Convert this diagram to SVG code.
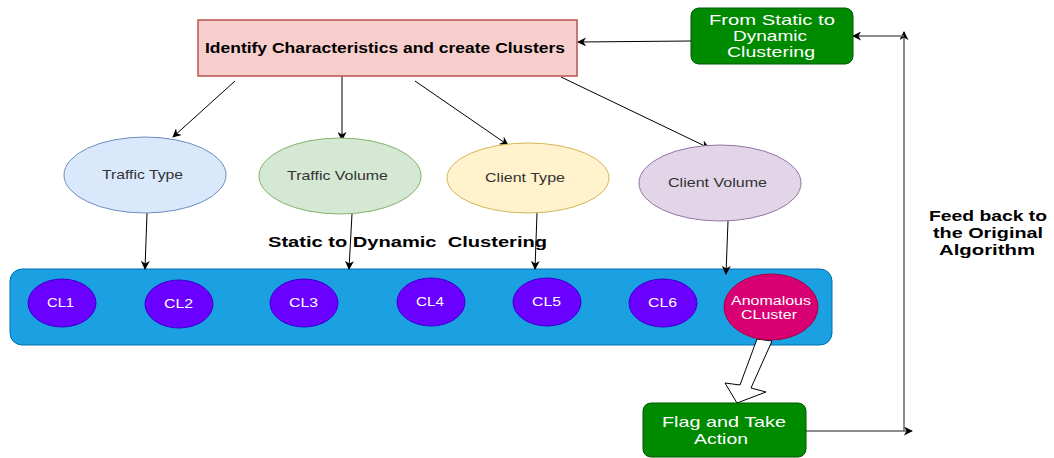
<svg xmlns="http://www.w3.org/2000/svg" width="1054" height="458" viewBox="0 0 1054 458">
<defs>
<marker id="ah" viewBox="0 0 10 10" refX="9" refY="5" markerWidth="9" markerHeight="9" markerUnits="userSpaceOnUse" orient="auto">
<path d="M0,0 L10,5 L0,10 L3,5 z" fill="#000"/>
</marker>
</defs>
<style>
text{font-family:"Liberation Sans",Arial,sans-serif;text-anchor:middle}
.b{font-weight:bold;fill:#000}
.w{fill:#fff;font-size:15px}
.e{fill:#333;font-size:13.5px}
.c{fill:#fff;font-size:12px}
.ln{stroke:#000;stroke-width:1;fill:none}
.fb{stroke:#666;stroke-width:1.5;fill:none}
.cl{fill:#6a00ff;stroke:#3700cc;stroke-width:1}
</style>
<rect width="1054" height="458" fill="#fff"/>

<g id="container">
<rect x="10" y="269" width="822" height="76" rx="12" fill="#1ba1e2" stroke="#006eaf" stroke-width="1"/>
</g>

<g id="connectors">
<line class="ln" x1="691" y1="41" x2="578" y2="42" marker-end="url(#ah)"/>
<line class="ln" x1="235" y1="81" x2="173" y2="137" marker-end="url(#ah)"/>
<line class="ln" x1="342" y1="76" x2="342" y2="140" marker-end="url(#ah)"/>
<line class="ln" x1="415" y1="81" x2="508" y2="145" marker-end="url(#ah)"/>
<line class="ln" x1="561" y1="77" x2="709" y2="148" marker-end="url(#ah)"/>
<line class="ln" x1="147" y1="213" x2="145" y2="269" marker-end="url(#ah)"/>
<line class="ln" x1="352" y1="214" x2="349" y2="269" marker-end="url(#ah)"/>
<line class="ln" x1="537" y1="213" x2="535" y2="269" marker-end="url(#ah)"/>
<line class="ln" x1="728" y1="221" x2="726" y2="274" marker-end="url(#ah)"/>
<polygon points="757,339 772,341 751,388 766,392 737,403 725,383 740,385" fill="#fff" stroke="#000" stroke-width="1"/>
<line class="fb" x1="806" y1="431" x2="912" y2="431" marker-end="url(#ah)"/>
<line class="fb" x1="904" y1="431" x2="904" y2="32" marker-end="url(#ah)"/>
<line class="fb" x1="904" y1="36" x2="853" y2="36" marker-end="url(#ah)"/>
</g>

<g id="identify">
<rect x="198" y="20" width="379" height="56" fill="#f8cecc" stroke="#b85450" stroke-width="1.5"/>
<text class="b" x="385" y="53" font-size="15" textLength="360" lengthAdjust="spacingAndGlyphs">Identify Characteristics and create Clusters</text>
</g>

<g id="static-dynamic">
<rect x="691" y="8" width="162" height="56" rx="8" fill="#008a00" stroke="#005700" stroke-width="1"/>
<text class="w" x="772" y="25" textLength="126" lengthAdjust="spacingAndGlyphs">From Static to</text>
<text class="w" x="770" y="41" textLength="74" lengthAdjust="spacingAndGlyphs">Dynamic</text>
<text class="w" x="771" y="57" textLength="88" lengthAdjust="spacingAndGlyphs">Clustering</text>
</g>

<g id="traffic-type">
<ellipse cx="145" cy="175" rx="81" ry="38" fill="#dae8fc" stroke="#6c8ebf" stroke-width="1"/>
<text class="e" x="142.5" y="179" textLength="81" lengthAdjust="spacingAndGlyphs">Traffic Type</text>
</g>
<g id="traffic-volume">
<ellipse cx="340" cy="176" rx="81" ry="38" fill="#d5e8d4" stroke="#82b366" stroke-width="1"/>
<text class="e" x="337.5" y="180" textLength="101" lengthAdjust="spacingAndGlyphs">Traffic Volume</text>
</g>
<g id="client-type">
<ellipse cx="528" cy="178" rx="81" ry="35" fill="#fff2cc" stroke="#d6b656" stroke-width="1"/>
<text class="e" x="525" y="182" textLength="80" lengthAdjust="spacingAndGlyphs">Client Type</text>
</g>
<g id="client-volume">
<ellipse cx="720" cy="183" rx="81" ry="38" fill="#e1d5e7" stroke="#9673a6" stroke-width="1"/>
<text class="e" x="717.5" y="187" textLength="99" lengthAdjust="spacingAndGlyphs">Client Volume</text>
</g>

<g id="cl1"><ellipse class="cl" cx="62" cy="303" rx="34" ry="24"/><text class="c" x="60.5" y="307" textLength="27" lengthAdjust="spacingAndGlyphs">CL1</text></g>
<g id="cl2"><ellipse class="cl" cx="179" cy="304" rx="34" ry="24"/><text class="c" x="178.5" y="308" textLength="29" lengthAdjust="spacingAndGlyphs">CL2</text></g>
<g id="cl3"><ellipse class="cl" cx="304" cy="303" rx="34" ry="24"/><text class="c" x="303.5" y="306.5" textLength="29" lengthAdjust="spacingAndGlyphs">CL3</text></g>
<g id="cl4"><ellipse class="cl" cx="431" cy="302" rx="34" ry="24"/><text class="c" x="430" y="306" textLength="28" lengthAdjust="spacingAndGlyphs">CL4</text></g>
<g id="cl5"><ellipse class="cl" cx="547" cy="302" rx="34" ry="24"/><text class="c" x="546.5" y="306" textLength="29" lengthAdjust="spacingAndGlyphs">CL5</text></g>
<g id="cl6"><ellipse class="cl" cx="663" cy="303" rx="34" ry="24"/><text class="c" x="662.5" y="306.5" textLength="29" lengthAdjust="spacingAndGlyphs">CL6</text></g>
<g id="anomalous">
<ellipse cx="771" cy="307" rx="47" ry="33" fill="#d80073" stroke="#a50040" stroke-width="1"/>
<text class="c" x="771" y="305" textLength="80" lengthAdjust="spacingAndGlyphs">Anomalous</text>
<text class="c" x="769" y="319" textLength="56" lengthAdjust="spacingAndGlyphs">CLuster</text>
</g>

<g id="flag">
<rect x="643" y="403" width="163" height="54" rx="8" fill="#008a00" stroke="#005700" stroke-width="1"/>
<text class="w" x="724" y="427" textLength="124" lengthAdjust="spacingAndGlyphs">Flag and Take</text>
<text class="w" x="721" y="444" textLength="54" lengthAdjust="spacingAndGlyphs">Action</text>
</g>

<g id="labels">
<text class="b" x="407.5" y="247" font-size="14" textLength="279" lengthAdjust="spacingAndGlyphs" xml:space="preserve">Static to Dynamic  Clustering</text>
<text class="b" x="988" y="221" font-size="14" textLength="118" lengthAdjust="spacingAndGlyphs">Feed back to</text>
<text class="b" x="988" y="238" font-size="14" textLength="110" lengthAdjust="spacingAndGlyphs">the Original</text>
<text class="b" x="987" y="255" font-size="14" textLength="96" lengthAdjust="spacingAndGlyphs">Algorithm</text>
</g>
</svg>
